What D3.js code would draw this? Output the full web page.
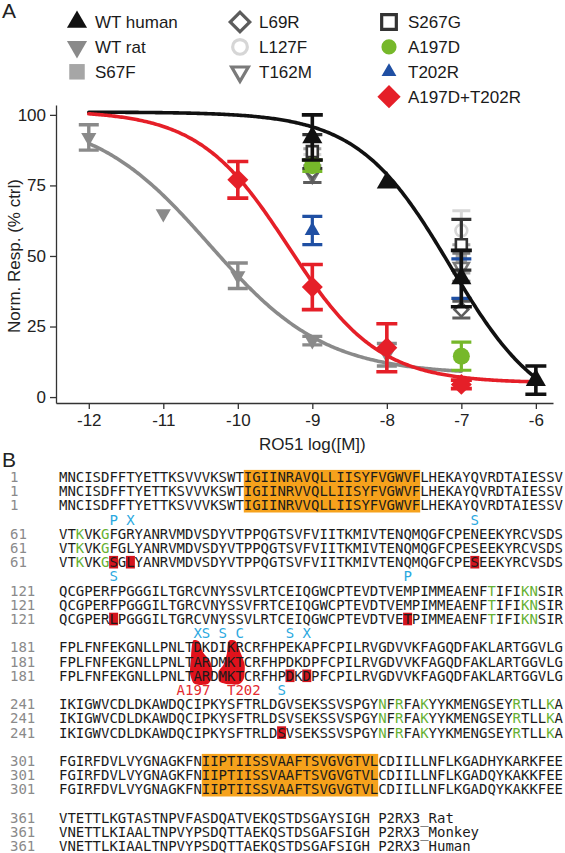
<!DOCTYPE html>
<html><head><meta charset="utf-8">
<script src="https://cdn.jsdelivr.net/npm/d3@7"></script>
<style>body{margin:0;background:#fff}svg{display:block;font-family:Arial,"Liberation Sans",sans-serif}</style>
</head><body>
<svg id="c" width="565" height="853"></svg>
<script>
// ---------------- Panel A data ----------------
const doseTicks = [-12, -11, -10, -9, -8, -7, -6];
const respTicks = [0, 25, 50, 75, 100];

const wtHumanX = [-9, -8, -7, -6], wtHumanY = [92, 76, 42, 6], wtHumanE = [8, 0, 10, 5];
const wtRatX = [-12, -11, -10, -9, -8], wtRatY = [92, 65, 43, 20, 15], wtRatE = [4.5, 0, 4.5, 1.5, 4];
const s67fX = [-9, -7], s67fY = [84, 49], s67fE = [4, 5];
const l69rX = [-9, -7], l69rY = [80, 31], l69rE = [4, 3];
const l127fX = [-9, -7], l127fY = [83, 59], l127fE = [3, 7];
const t162mX = [-9, -7], t162mY = [79, 46], t162mE = [3, 5];
const s267gX = [-9, -7], s267gY = [87, 54], s267gE = [6, 9];
const a197dX = [-9, -7], a197dY = [82, 14.5], a197dE = [2, 5];
const t202rX = [-9, -7], t202rY = [59, 42], t202rE = [5, 7];
const dblX = [-10, -9, -8, -7], dblY = [77, 39, 17.5, 4.5], dblE = [6.5, 8, 8.5, 1.5];

// fitted dose-response curves: [top, bottom, logIC50, hill, xStart, xEnd]
const fitHuman = [101, -8, -7.15, 0.7, -12, -6];
const fitRat = [100, 8, -10.38, 0.56, -12, -7];
const fitDouble = [101.5, 5, -9.32, 0.72, -12, -6];

const legendNames = ["WT human", "WT rat", "S67F", "L69R", "L127F", "T162M", "S267G", "A197D", "T202R", "A197D+T202R"];

// ---------------- Panel B data ----------------
const blockStarts = [1, 61, 121, 181, 241, 301, 361];
const seqRat = [
  "MNCISDFFTYETTKSVVVKSWTIGIINRAVQLLIISYFVGWVFLHEKAYQVRDTAIESSV",
  "VTKVKGFGRYANRVMDVSDYVTPPQGTSVFVIITKMIVTENQMQGFCPENEEKYRCVSDS",
  "QCGPERFPGGGILTGRCVNYSSVLRTCEIQGWCPTEVDTVEMPIMMEAENFTIFIKNSIR",
  "FPLFNFEKGNLLPNLTDKDIKRCRFHPEKAPFCPILRVGDVVKFAGQDFAKLARTGGVLG",
  "IKIGWVCDLDKAWDQCIPKYSFTRLDGVSEKSSVSPGYNFRFAKYYKMENGSEYRTLLKA",
  "FGIRFDVLVYGNAGKFNIIPTIISSVAAFTSVGVGTVLCDIILLNFLKGADHYKARKFEE",
  "VTETTLKGTASTNPVFASDQATVEKQSTDSGAYSIGH P2RX3_Rat"];
const seqMonkey = [
  "MNCISDFFTYETTKSVVVKSWTIGIINRVVQLLIISYFVGWVFLHEKAYQVRDTAIESSV",
  "VTKVKGFGLYANRVMDVSDYVTPPQGTSVFVIITKMIVTENQMQGFCPESEEKYRCVSDS",
  "QCGPERFPGGGILTGRCVNYSSVFRTCEIQGWCPTEVDTVEMPIMMEAENFTIFIKNSIR",
  "FPLFNFEKGNLLPNLTARDMKTCRFHPDKDPFCPILRVGDVVKFAGQDFAKLARTGGVLG",
  "IKIGWVCDLDKAWDQCIPKYSFTRLDSVSEKSSVSPGYNFRFAKYYKMENGSEYRTLLKA",
  "FGIRFDVLVYGNAGKFNIIPTIISSVAAFTSVGVGTVLCDIILLNFLKGADQYKAKKFEE",
  "VNETTLKIAALTNPVYPSDQTTAEKQSTDSGAFSIGH P2RX3_Monkey"];
const seqHuman = [
  "MNCISDFFTYETTKSVVVKSWTIGIINRVVQLLIISYFVGWVFLHEKAYQVRDTAIESSV",
  "VTKVKGSGLYANRVMDVSDYVTPPQGTSVFVIITKMIVTENQMQGFCPESEEKYRCVSDS",
  "QCGPERLPGGGILTGRCVNYSSVLRTCEIQGWCPTEVDTVETPIMMEAENFTIFIKNSIR",
  "FPLFNFEKGNLLPNLTARDMKTCRFHPDKDPFCPILRVGDVVKFAGQDFAKLARTGGVLG",
  "IKIGWVCDLDKAWDQCIPKYSFTRLDSVSEKSSVSPGYNFRFAKYYKMENGSEYRTLLKA",
  "FGIRFDVLVYGNAGKFNIIPTIISSVAAFTSVGVGTVLCDIILLNFLKGADQYKAKKFEE",
  "VNETTLKIAALTNPVYPSDQTTAEKQSTDSGAFSIGH P2RX3_Human"];
// [block, startCol, endCol)
const tmHighlights = [[0, 22, 43], [5, 17, 38]];
// green residues per block (all species)
const greenBlock = [1, 1, 2, 2, 2, 4, 4, 4, 4, 4];
const greenCol   = [2, 5, 51, 55, 56, 38, 40, 43, 54, 58];
// red boxes on human row
const redBlock = [1, 1, 1, 2, 2, 3, 3, 4];
const redCol   = [6, 8, 49, 6, 41, 27, 29, 26];
// cyan annotations above block
const annBlock = [1, 1, 1, 2, 2, 3, 3, 3, 3, 3, 3, 4];
const annCol   = [6, 8, 49, 6, 41, 16, 17, 19, 21, 27, 29, 26];
const annText  = ["P", "X", "S", "S", "P", "X", "S", "S", "C", "S", "X", "S"];
const mutLabels = ["A197", "T202"], mutLabelCol = [14, 20], mutLabelBlock = [4, 4];

// ---------------- drawing ----------------
const svg = d3.select("#c");
svg.append("rect").attr("width", 565).attr("height", 853).attr("fill", "#fff");

const xS = d3.scaleLinear().domain([-12.44, -5.77]).range([56, 553]);
const yS = d3.scaleLinear().domain([-2.1, 103.5]).range([403, 105]);

const symPath = (type, size) => {
  const t = {triUp: d3.symbolTriangle, triDown: d3.symbolTriangle, square: d3.symbolSquare,
             diamond: d3.symbolSquare, circle: d3.symbolCircle}[type];
  return d3.symbol(t, size)();
};
const symRot = type => type === "triDown" ? 180 : (type === "diamond" ? 45 : 0);

// axes
const gx = svg.append("g").attr("transform", "translate(0,403)")
  .call(d3.axisBottom(xS).tickValues(doseTicks).tickSize(6).tickSizeOuter(0).tickPadding(5).tickFormat(d => String(d)));
const gy = svg.append("g").attr("transform", "translate(56,0)")
  .call(d3.axisLeft(yS).tickValues(respTicks).tickSize(6).tickSizeOuter(0).tickPadding(4));
[gx, gy].forEach(g => {
  g.selectAll("path,line").attr("stroke", "#333").attr("stroke-width", 1.3);
  g.selectAll("text").attr("font-size", 17).attr("fill", "#222").attr("font-family", "Arial, 'Liberation Sans', sans-serif");
});
svg.append("text").attr("x", xS(-9)).attr("y", 450).attr("text-anchor", "middle")
  .attr("font-size", 17).attr("fill", "#222").text("RO51 log([M])");
svg.append("text").attr("transform", "translate(20,256) rotate(-90)").attr("text-anchor", "middle")
  .attr("font-size", 17).attr("fill", "#222").text("Norm. Resp. (% ctrl)");
svg.append("text").attr("x", 2).attr("y", 18).attr("font-size", 21).attr("fill", "#222").text("A");

// curves
const logistic = (p, x) => p[1] + (p[0] - p[1]) / (1 + Math.pow(10, p[3] * (x - p[2])));
const drawFit = (p, color) => {
  const xs = d3.range(p[4], p[5] + 1e-9, 0.02);
  svg.append("path").attr("d", d3.line().x(d => xS(d)).y(d => yS(logistic(p, d)))(xs))
    .attr("fill", "none").attr("stroke", color).attr("stroke-width", 3.6).attr("stroke-linecap", "round");
};

const drawSeries = (X, Y, E, s) => {
  const g = svg.append("g");
  X.forEach((xv, i) => {
    const cx = xS(xv), cy = yS(Y[i]), e = E[i];
    if (e > 0) {
      const t = yS(Y[i] + e), b = yS(Y[i] - e), w = s.cap / 2;
      g.append("path").attr("d", `M${cx},${t}V${b}M${cx - w},${t}H${cx + w}M${cx - w},${b}H${cx + w}`)
        .attr("stroke", s.bar).attr("stroke-width", s.bw).attr("fill", "none");
    }
    g.append("path").attr("d", symPath(s.type, s.size))
      .attr("transform", `translate(${cx},${cy}) rotate(${symRot(s.type)})`)
      .attr("fill", s.open ? "#fff" : s.color).attr("stroke", s.open ? s.color : "none")
      .attr("stroke-width", s.open ? 2.6 : 0);
  });
};

drawFit(fitRat, "#8a8a8a");
drawSeries(wtRatX, wtRatY, wtRatE, {type: "triDown", size: 100, color: "#8a8a8a", bar: "#8a8a8a", bw: 3.4, cap: 20});
drawSeries(l127fX, l127fY, l127fE, {type: "circle", size: 110, color: "#d6d6d6", bar: "#d6d6d6", bw: 3, cap: 18, open: true});
drawSeries(s67fX, s67fY, s67fE, {type: "square", size: 130, color: "#a6a6a6", bar: "#a6a6a6", bw: 3, cap: 18});
drawSeries(t162mX, t162mY, t162mE, {type: "triDown", size: 95, color: "#7a7a7a", bar: "#7a7a7a", bw: 3, cap: 18, open: true});
drawSeries(l69rX, l69rY, l69rE, {type: "diamond", size: 95, color: "#5c5c5c", bar: "#5c5c5c", bw: 3, cap: 18, open: true});
drawSeries(s267gX, s267gY, s267gE, {type: "square", size: 120, color: "#333", bar: "#333", bw: 3.2, cap: 20, open: true});
drawSeries(a197dX, a197dY, a197dE, {type: "circle", size: 227, color: "#76b82a", bar: "#76b82a", bw: 3.2, cap: 20});
drawSeries(t202rX, t202rY, t202rE, {type: "triUp", size: 100, color: "#1f4fa3", bar: "#1f4fa3", bw: 3.2, cap: 20});
drawFit(fitHuman, "#111");
drawFit(fitDouble, "#e51f28");
drawSeries(dblX, dblY, dblE, {type: "diamond", size: 220, color: "#e51f28", bar: "#e51f28", bw: 3.6, cap: 21});
drawSeries(wtHumanX, wtHumanY, wtHumanE, {type: "triUp", size: 175, color: "#111", bar: "#111", bw: 3.6, cap: 21});

// legend
const legCols = [0, 0, 0, 1, 1, 1, 2, 2, 2, 2];
const legRows = [0, 1, 2, 0, 1, 2, 0, 1, 2, 3];
const legMarkX = [77, 240, 389], legTextX = [95, 259, 408];
const legY = d3.scaleLinear().domain([0, 3]).range([22, 96.7]);
const legStyle = [
  {type: "triUp", size: 175, color: "#111"},
  {type: "triDown", size: 175, color: "#8a8a8a"},
  {type: "square", size: 240, color: "#a6a6a6"},
  {type: "diamond", size: 190, color: "#5c5c5c", open: true},
  {type: "circle", size: 170, color: "#d6d6d6", open: true},
  {type: "triDown", size: 120, color: "#7a7a7a", open: true},
  {type: "square", size: 215, color: "#333", open: true},
  {type: "circle", size: 180, color: "#76b82a"},
  {type: "triUp", size: 95, color: "#1f4fa3"},
  {type: "diamond", size: 270, color: "#e51f28"}];
legendNames.forEach((n, i) => {
  const c = legCols[i], y = legY(legRows[i]), s = legStyle[i];
  svg.append("path").attr("d", symPath(s.type, s.size))
    .attr("transform", `translate(${legMarkX[c]},${y}) rotate(${symRot(s.type)})`)
    .attr("fill", s.open ? "#fff" : s.color).attr("stroke", s.open ? s.color : "none").attr("stroke-width", s.open ? 3.2 : 0);
  svg.append("text").attr("x", legTextX[c]).attr("y", y + 6.2).attr("font-size", 17).attr("fill", "#1a1a1a").text(n);
});

// ---------------- Panel B ----------------
svg.append("text").attr("x", 2).attr("y", 467).attr("font-size", 21).attr("fill", "#222").text("B");
const colX = d3.scaleLinear().domain([0, 60]).range([59, 563]);
const lineY = d3.scaleLinear().domain([0, 1]).range([477, 491.2]);
const cw = colX(1) - colX(0), lh = lineY(1) - lineY(0);
const mono = "'DejaVu Sans Mono', 'Liberation Mono', monospace";
const bgG = svg.append("g"), txG = svg.append("g");

tmHighlights.forEach(h => {
  bgG.append("rect").attr("x", colX(h[1])).attr("width", colX(h[2]) - colX(h[1]))
    .attr("y", lineY(4 * h[0]) - lh / 2).attr("height", 3 * lh).attr("fill", "#f6a21c");
});
redBlock.forEach((b, i) => {
  bgG.append("rect").attr("x", colX(redCol[i]) - 0.3).attr("width", cw + 0.6)
    .attr("y", lineY(4 * b + 2) - 6.3).attr("height", 12.6).attr("fill", "#d3141d");
});
// red residue blobs at A197 / T202 (block 3)
const blob197 = [[16.0, -0.5], [16.7, -0.4], [17.1, 0.3], [18.0, 1.0], [18.3, 1.9], [17.8, 2.55], [16.9, 2.65], [16.0, 2.5], [15.6, 1.8], [15.7, 0.8], [15.8, 0.0]];
const blob202 = [[20.2, -0.45], [21.0, -0.45], [21.5, 0.2], [22.1, 1.2], [22.0, 2.2], [21.4, 2.6], [20.2, 2.6], [19.1, 2.4], [19.0, 1.7], [19.6, 1.2], [20.0, 0.4]];
const blobLine = d3.line().x(d => colX(d[0])).y(d => lineY(12 + d[1])).curve(d3.curveCardinalClosed.tension(0.3));
[blob197, blob202].forEach(bl => bgG.append("path").attr("d", blobLine(bl)).attr("fill", "#e0121c"));

const greenSet = new Set(greenBlock.map((b, i) => b + ":" + greenCol[i]));
[seqRat, seqMonkey, seqHuman].forEach((sp, s) => {
  sp.forEach((line, b) => {
    const y = lineY(4 * b + s) + 5;
    if (s >= 0) txG.append("text").attr("x", 10).attr("y", y).attr("font-family", mono).attr("font-size", 14)
      .attr("fill", "#8a8a8a").text(blockStarts[b]);
    const t = txG.append("text").attr("y", y).attr("font-family", mono).attr("font-size", 14).attr("fill", "#1b1b1b");
    line.split("").forEach((ch, i) => {
      t.append("tspan").attr("x", colX(i)).attr("fill", greenSet.has(b + ":" + i) ? "#66b032" : "#1b1b1b").text(ch);
    });
  });
});
annBlock.forEach((b, i) => {
  txG.append("text").attr("x", colX(annCol[i]) + cw / 2).attr("y", lineY(4 * b - 1) + 5).attr("text-anchor", "middle")
    .attr("font-family", mono).attr("font-size", 14).attr("fill", "#2aa8e0").text(annText[i]);
});
mutLabels.forEach((m, i) => {
  txG.append("text").attr("x", colX(mutLabelCol[i])).attr("y", lineY(4 * mutLabelBlock[i] - 1) + 5)
    .attr("font-family", mono).attr("font-size", 14).attr("fill", "#e42a30").text(m);
});
</script>
</body></html>
